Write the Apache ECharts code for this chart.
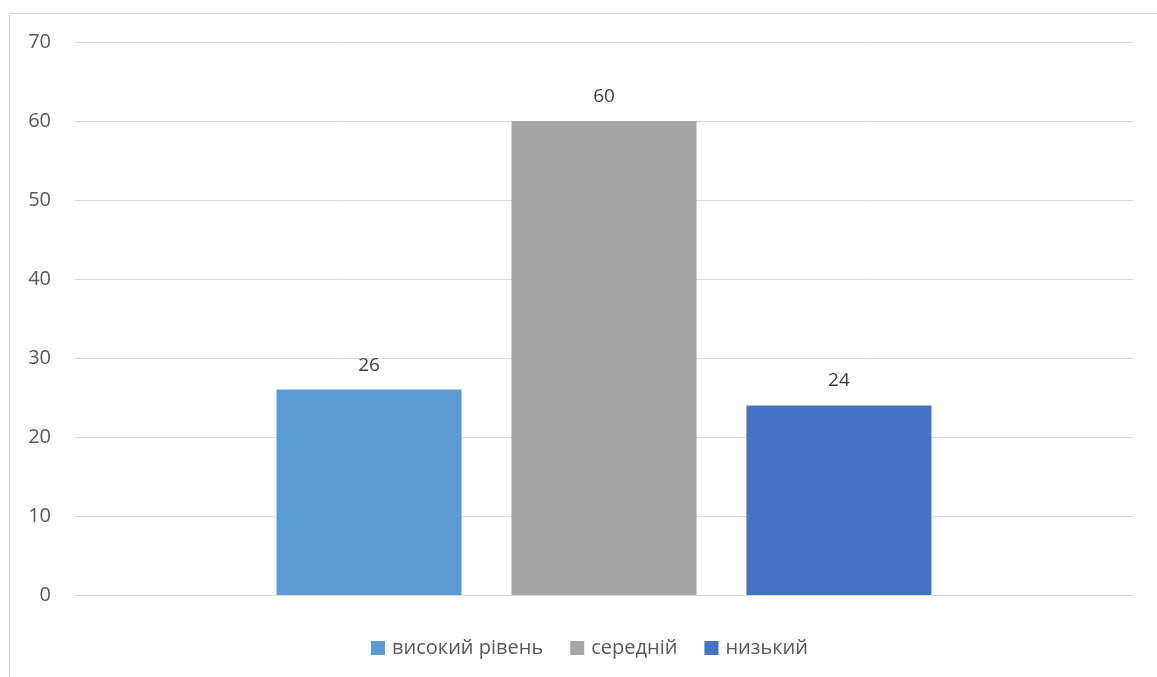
<!DOCTYPE html>
<html>
<head>
<meta charset="utf-8">
<script src="https://cdn.jsdelivr.net/npm/echarts@6/dist/echarts.min.js"></script>
<style>
    html, body { margin: 0; padding: 0; background: #fff; overflow: hidden; }
    #frame {
        position: absolute; left: 9px; top: 13px;
        width: 1200px; height: 720px;
        border: 1px solid #d9d9d9;
    }
    #chart { position: absolute; left: 0; top: 0; width: 1157px; height: 677px; }
</style>
</head>
<body>
<div id="frame"></div>
<div id="chart"></div>
<script>
// дані діаграми
const seriesNames = ['високий рівень', 'середній', 'низький'];
const seriesValues = [26, 60, 24];
const seriesColors = ['#5b9bd5', '#a5a5a5', '#4472c4'];
const categories = [''];
const yTicks = { min: 0, max: 70, interval: 10 };

const myChart = echarts.init(document.getElementById('chart'));
const font = '"Open Sans", "Noto Sans", sans-serif';

const option = {
    animation: false,
    textStyle: { fontFamily: font },
    grid: { left: 75, right: 24, top: 42, bottom: 82 },
    legend: {
        top: 633,
        left: 366,
        icon: 'rect',
        itemWidth: 14,
        itemHeight: 14,
        itemGap: 27,
        textStyle: { color: '#595959', fontSize: 20, fontFamily: font, padding: [0, 0, 0, 2] },
        data: seriesNames
    },
    xAxis: {
        type: 'category',
        data: categories,
        axisLine: { lineStyle: { color: '#d9d9d9', width: 1 } },
        axisTick: { show: false },
        axisLabel: { show: false }
    },
    yAxis: {
        type: 'value',
        min: yTicks.min,
        max: yTicks.max,
        interval: yTicks.interval,
        axisLine: { show: false },
        axisTick: { show: false },
        axisLabel: { color: '#595959', fontSize: 20, margin: 24, fontFamily: font },
        splitLine: { lineStyle: { color: '#d9d9d9', width: 1 } }
    },
    series: seriesNames.map((name, i) => ({
        name: name,
        type: 'bar',
        data: [seriesValues[i]],
        barWidth: 185,
        barGap: '27%',
        itemStyle: { color: seriesColors[i] },
        label: {
            show: true,
            position: 'top',
            distance: 15,
            color: '#404040',
            fontSize: 19,
            fontFamily: font
        }
    }))
};
myChart.setOption(option);
</script>
</body>
</html>
